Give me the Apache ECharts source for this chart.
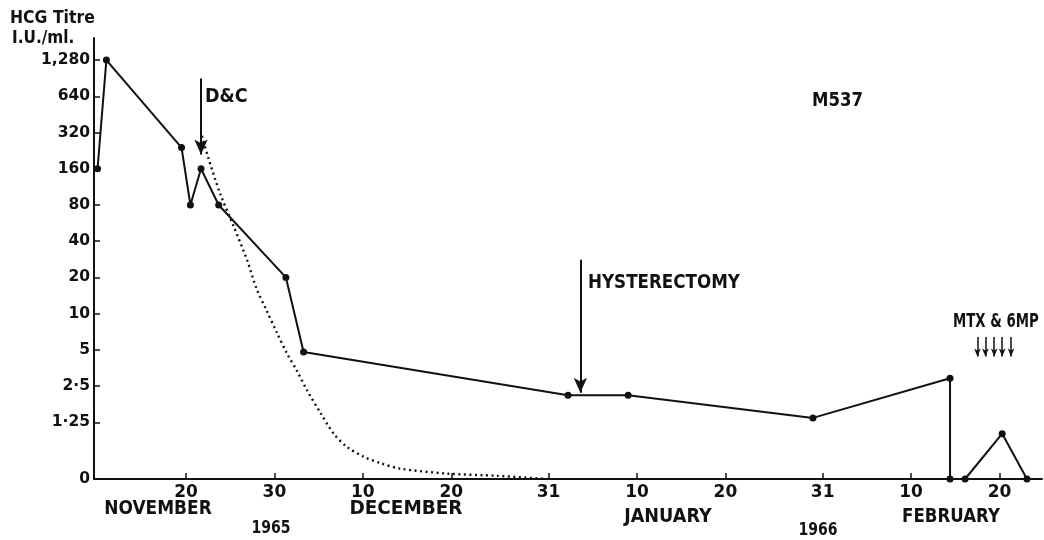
<!DOCTYPE html>
<html>
<head>
<meta charset="utf-8">
<script src="https://cdn.jsdelivr.net/npm/echarts@6/dist/echarts.min.js"></script>
<style>
html,body{margin:0;padding:0;background:#fff;}
#c{width:1044px;height:540px;}
</style>
</head>
<body>
<div id="c"></div>
<script>
// x values are days after 31 October 1965 (Nov 20 = 20, Dec 31 = 61, Feb 20 = 112)
const solidDays  = [10, 11, 19.5, 20.5, 21.7, 23.7, 31.3, 33.3, 63.2, 70.0, 90.9, 106.4, 106.4, 108.1, 112.3, 115.1];
const solidTitre = [160, 1280, 240, 80, 160, 80, 20, 4.8, 2.1, 2.1, 1.36, 2.9, 0, 0, 1.0, 0];

const dottedDays  = [21.8, 22.5, 23.85, 25.4, 26.9, 28.0, 29.1, 30.3, 31.4, 32.5, 33.7, 35.2, 36.7, 38.2, 40.1, 42.0, 44.2, 49.5, 55.2, 60.8];
const dottedTitre = [300, 200, 100, 53, 28, 16, 10.7, 6.9, 4.7, 3.4, 2.3, 1.5, 1.0, 0.71, 0.49, 0.35, 0.23, 0.12, 0.07, 0];

const xTickDays   = [20, 30, 40, 50, 61, 71, 81, 92, 102, 112];
const xTickLabels = ['20', '30', '10', '20', '31', '10', '20', '31', '10', '20'];

const yTickTitre  = [0, 1.25, 2.5, 5, 10, 20, 40, 80, 160, 320, 640, 1280];
const yTickLabels = ['0', '1·25', '2·5', '5', '10', '20', '40', '80', '160', '320', '640', '1,280'];

// annotation arrows: [day, titre at top of arrow, titre at arrow tip]
const dcArrow   = [21.7, 900, 210];
const hystArrow = [64.6, 28, 2.2];
const mtxDays   = [109.5, 110.4, 111.4, 112.3, 113.3];
const mtxTop = 6.4, mtxTip = 4.4;

const KMIN = -1.565;
function toK(v) { return v >= 1.25 ? Math.log2(v / 1.25) : KMIN * (1 - v / 1.25); }

const FONT = "'DejaVu Sans','Liberation Sans',sans-serif";
const yTickK = yTickTitre.map(toK);

const chart = echarts.init(document.getElementById('c'));

function arrowPair(day, top, tip) {
  return [{ coord: [day, toK(top)] }, { coord: [day, toK(tip)] }];
}

function txt(text, x, y, size, sx, align) {
  return {
    type: 'text', x: x, y: y, scaleX: sx,
    style: { text: text, font: 'bold ' + size + 'px ' + FONT, fill: '#111',
             align: align || 'left', verticalAlign: 'middle' }
  };
}

chart.setOption({
  animation: false,
  backgroundColor: '#fff',
  grid: { left: 94, right: 2, top: 38, bottom: 61 },
  xAxis: {
    type: 'value', min: 9.6, max: 116.8,
    axisLine: { show: true, onZero: false, lineStyle: { color: '#111', width: 2 } },
    axisTick: { show: true, inside: true, length: 6, customValues: xTickDays, lineStyle: { color: '#111', width: 1.5 } },
    axisLabel: {
      customValues: xTickDays, margin: 5, color: '#111',
      fontFamily: FONT, fontWeight: 'bold', fontSize: 17,
      formatter: function (v) {
        const i = xTickDays.findIndex(d => Math.abs(d - v) < 0.01);
        return i >= 0 ? xTickLabels[i] : '';
      }
    },
    splitLine: { show: false }
  },
  yAxis: {
    type: 'value', min: KMIN, max: 10.61,
    axisLine: { show: true, onZero: false, lineStyle: { color: '#111', width: 2 } },
    axisTick: { show: true, inside: true, length: 6, customValues: yTickK, lineStyle: { color: '#111', width: 1.5 } },
    axisLabel: {
      customValues: yTickK, margin: 4, color: '#111',
      fontFamily: FONT, fontWeight: 'bold', fontSize: 15.5,
      formatter: function (v) {
        const i = yTickK.findIndex(k => Math.abs(k - v) < 0.01);
        return i >= 0 ? yTickLabels[i] : '';
      }
    },
    splitLine: { show: false }
  },
  series: [
    {
      type: 'line',
      data: dottedDays.map((d, i) => [d, toK(dottedTitre[i])]),
      smooth: 0.3, showSymbol: false, silent: true,
      lineStyle: { color: '#111', width: 2.4, type: [2, 3.5] }
    },
    {
      type: 'line',
      data: solidDays.map((d, i) => [d, toK(solidTitre[i])]),
      symbol: 'circle', symbolSize: 7, silent: true,
      itemStyle: { color: '#111' },
      lineStyle: { color: '#111', width: 2 }
    },
    {
      type: 'line', data: [], silent: true,
      markLine: {
        silent: true, animation: false,
        symbol: ['none', 'arrow'], symbolSize: [10, 15],
        label: { show: false },
        lineStyle: { color: '#111', width: 2, type: 'solid' },
        data: [arrowPair(dcArrow[0], dcArrow[1], dcArrow[2]),
               arrowPair(hystArrow[0], hystArrow[1], hystArrow[2])]
      }
    },
    {
      type: 'line', data: [], silent: true,
      markLine: {
        silent: true, animation: false,
        symbol: ['none', 'arrow'], symbolSize: [5, 8],
        label: { show: false },
        lineStyle: { color: '#111', width: 1.5, type: 'solid' },
        data: mtxDays.map(d => arrowPair(d, mtxTop, mtxTip))
      }
    }
  ],
  graphic: [
    txt('HCG Titre', 10, 18, 18, 0.87),
    txt('I.U./ml.', 12, 39, 17, 0.9),
    txt('D&C', 205, 97, 19, 0.92),
    txt('M537', 812, 101, 19, 0.87),
    txt('HYSTERECTOMY', 588, 283, 19, 0.88),
    txt('MTX & 6MP', 953, 322, 19, 0.7),
    txt('NOVEMBER', 158, 509, 20, 0.85, 'center'),
    txt('DECEMBER', 406, 509, 20, 0.92, 'center'),
    txt('1965', 271, 528, 18, 0.78, 'center'),
    txt('JANUARY', 668, 517, 20, 0.88, 'center'),
    txt('1966', 818, 530, 18, 0.78, 'center'),
    txt('FEBRUARY', 951, 517, 20, 0.83, 'center')
  ]
});
</script>
</body>
</html>
